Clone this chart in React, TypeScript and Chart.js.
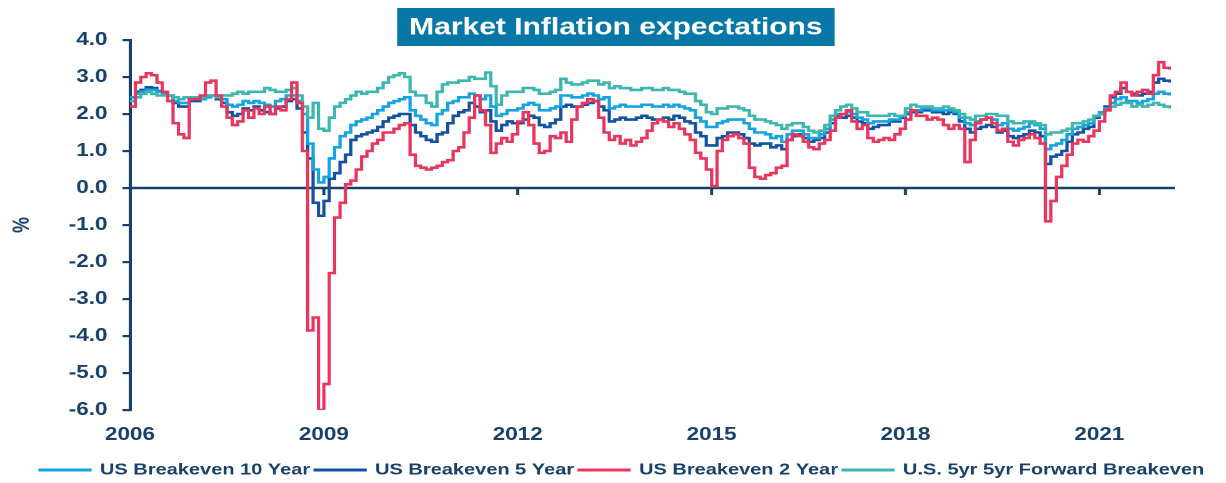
import { useEffect, useRef } from "react";
import { Chart, registerables } from "chart.js";

Chart.register(...registerables);

// ---------- data ----------
const START_YEAR = 2006; // first monthly observation: Jan 2006
const END_X = 2022 + 2 / 12;
const YEAR_TICKS = [2006, 2009, 2012, 2015, 2018, 2021];
const Y_MIN = -6;
const Y_MAX = 4;
const TITLE = "Market Inflation expectations";
const Y_TITLE = "%";
const SERIES_NAMES = [
  "US Breakeven 10 Year",
  "US Breakeven 5 Year",
  "US Breakeven 2 Year",
  "U.S. 5yr 5yr Forward Breakeven",
];

// monthly values, Jan 2006 .. Feb 2022
const BE10 = [
  2.45, 2.55, 2.6, 2.65, 2.65, 2.6, 2.55, 2.5, 2.35, 2.3, 2.3, 2.4, // 2006
  2.4, 2.4, 2.45, 2.5, 2.45, 2.4, 2.25, 2.2, 2.25, 2.35, 2.3, 2.35, // 2007
  2.3, 2.25, 2.2, 2.35, 2.4, 2.5, 2.5, 2.35, 2.0, 1.2, 0.5, 0.15, // 2008
  0.3, 0.8, 1.1, 1.4, 1.5, 1.7, 1.8, 1.85, 1.9, 2.0, 2.1, 2.2, // 2009
  2.3, 2.35, 2.4, 2.45, 2.1, 1.95, 1.85, 1.75, 1.7, 2.0, 2.1, 2.3, // 2010
  2.35, 2.45, 2.45, 2.55, 2.5, 2.4, 2.5, 2.2, 1.95, 2.0, 2.1, 2.1, // 2011
  2.15, 2.25, 2.3, 2.25, 2.1, 2.1, 2.15, 2.2, 2.5, 2.5, 2.45, 2.45, // 2012
  2.5, 2.55, 2.5, 2.4, 2.45, 2.15, 2.2, 2.25, 2.2, 2.2, 2.2, 2.25, // 2013
  2.25, 2.2, 2.2, 2.25, 2.2, 2.25, 2.2, 2.15, 2.1, 1.9, 1.8, 1.65, // 2014
  1.65, 1.75, 1.8, 1.85, 1.85, 1.85, 1.75, 1.6, 1.5, 1.5, 1.45, 1.35, // 2015
  1.4, 1.25, 1.45, 1.55, 1.55, 1.45, 1.35, 1.35, 1.45, 1.6, 1.85, 2.0, // 2016
  2.0, 2.05, 2.0, 1.9, 1.85, 1.75, 1.8, 1.8, 1.8, 1.85, 1.85, 1.95, // 2017
  2.05, 2.1, 2.1, 2.15, 2.15, 2.1, 2.1, 2.1, 2.1, 2.05, 1.9, 1.75, // 2018
  1.7, 1.8, 1.85, 1.9, 1.85, 1.7, 1.75, 1.6, 1.55, 1.6, 1.65, 1.75, // 2019
  1.7, 1.6, 1.05, 1.15, 1.2, 1.3, 1.45, 1.6, 1.65, 1.7, 1.75, 1.95, // 2020
  2.05, 2.15, 2.3, 2.4, 2.45, 2.35, 2.35, 2.3, 2.35, 2.4, 2.55, 2.6, // 2021
  2.55, 2.5, // 2022
];

const BE5 = [
  2.45, 2.6, 2.65, 2.72, 2.7, 2.62, 2.6, 2.5, 2.3, 2.2, 2.2, 2.35, // 2006
  2.35, 2.4, 2.45, 2.5, 2.4, 2.3, 2.05, 1.95, 2.0, 2.15, 2.1, 2.2, // 2007
  2.1, 2.05, 2.0, 2.15, 2.2, 2.35, 2.4, 2.15, 1.5, 0.8, -0.4, -0.75, // 2008
  -0.35, 0.25, 0.4, 0.7, 0.9, 1.3, 1.4, 1.45, 1.5, 1.55, 1.65, 1.8, // 2009
  1.9, 1.95, 2.0, 2.0, 1.7, 1.5, 1.4, 1.3, 1.25, 1.45, 1.5, 1.75, // 2010
  1.95, 2.05, 2.1, 2.3, 2.2, 2.05, 2.1, 1.8, 1.55, 1.7, 1.8, 1.75, // 2011
  1.75, 1.85, 1.95, 1.9, 1.7, 1.65, 1.75, 1.85, 2.2, 2.25, 2.2, 2.2, // 2012
  2.25, 2.3, 2.35, 2.2, 2.1, 1.8, 1.85, 1.9, 1.85, 1.85, 1.9, 1.95, // 2013
  1.9, 1.85, 1.85, 1.9, 1.85, 1.95, 1.9, 1.8, 1.75, 1.5, 1.4, 1.15, // 2014
  1.15, 1.35, 1.4, 1.5, 1.5, 1.45, 1.35, 1.2, 1.15, 1.2, 1.2, 1.1, // 2015
  1.15, 1.05, 1.3, 1.4, 1.45, 1.35, 1.25, 1.3, 1.35, 1.5, 1.75, 1.95, // 2016
  1.9, 1.95, 1.9, 1.8, 1.75, 1.6, 1.65, 1.7, 1.7, 1.8, 1.8, 1.9, // 2017
  2.0, 2.05, 2.05, 2.1, 2.1, 2.05, 2.05, 2.0, 2.05, 2.0, 1.8, 1.6, // 2018
  1.5, 1.6, 1.65, 1.7, 1.65, 1.5, 1.55, 1.4, 1.35, 1.4, 1.45, 1.55, // 2019
  1.5, 1.4, 0.65, 0.85, 0.9, 1.0, 1.25, 1.45, 1.5, 1.6, 1.65, 1.9, // 2020
  2.0, 2.2, 2.45, 2.55, 2.7, 2.6, 2.55, 2.5, 2.55, 2.6, 2.85, 2.95, // 2021
  2.9, 2.85, // 2022
];

const BE2 = [
  2.2, 2.85, 3.0, 3.1, 3.05, 2.85, 2.6, 2.35, 1.75, 1.45, 1.35, 2.4, // 2006
  2.4, 2.5, 2.85, 2.9, 2.5, 2.2, 1.9, 1.7, 1.8, 2.1, 1.9, 2.15, // 2007
  2.0, 2.2, 2.0, 2.2, 2.1, 2.4, 2.85, 2.3, 1.0, -3.85, -3.5, -6.0, // 2008
  -5.3, -2.3, -0.8, -0.4, 0.1, 0.2, 0.5, 0.85, 1.0, 1.2, 1.3, 1.5, // 2009
  1.5, 1.6, 1.7, 1.75, 0.9, 0.6, 0.55, 0.5, 0.55, 0.6, 0.7, 0.75, // 2010
  1.0, 1.1, 1.5, 1.9, 2.5, 2.1, 1.7, 0.95, 1.2, 1.35, 1.25, 1.45, // 2011
  1.8, 2.05, 1.7, 1.2, 0.95, 1.0, 1.4, 1.35, 1.5, 1.25, 1.85, 2.2, // 2012
  2.3, 2.4, 2.35, 1.9, 1.5, 1.3, 1.4, 1.2, 1.3, 1.15, 1.25, 1.35, // 2013
  1.55, 1.75, 1.85, 1.8, 1.65, 1.75, 1.6, 1.45, 1.3, 0.95, 0.8, 0.5, // 2014
  0.05, 1.0, 1.3, 1.4, 1.45, 1.35, 1.2, 0.55, 0.3, 0.25, 0.35, 0.4, // 2015
  0.55, 0.6, 1.3, 1.45, 1.4, 1.25, 1.1, 1.05, 1.2, 1.3, 1.55, 1.9, // 2016
  2.0, 2.1, 1.8, 1.6, 1.7, 1.35, 1.25, 1.3, 1.35, 1.3, 1.45, 1.6, // 2017
  1.85, 2.1, 1.95, 1.95, 1.85, 1.9, 1.85, 1.7, 1.6, 1.7, 1.6, 0.7, // 2018
  1.3, 1.75, 1.85, 1.9, 1.75, 1.55, 1.6, 1.25, 1.15, 1.3, 1.35, 1.45, // 2019
  1.35, 1.2, -0.9, -0.35, 0.3, 0.6, 0.9, 1.2, 1.3, 1.25, 1.4, 1.55, // 2020
  1.8, 2.1, 2.5, 2.6, 2.85, 2.6, 2.5, 2.6, 2.65, 2.55, 3.05, 3.4, // 2021
  3.25, 3.2, // 2022
];

const FWD5Y5Y = [
  2.35, 2.45, 2.55, 2.6, 2.55, 2.5, 2.5, 2.5, 2.45, 2.4, 2.45, 2.45, // 2006
  2.45, 2.45, 2.5, 2.5, 2.45, 2.5, 2.5, 2.55, 2.6, 2.55, 2.6, 2.6, // 2007
  2.6, 2.7, 2.65, 2.6, 2.6, 2.65, 2.7, 2.5, 2.2, 1.9, 2.3, 1.6, // 2008
  1.55, 1.9, 2.2, 2.3, 2.4, 2.5, 2.6, 2.55, 2.6, 2.6, 2.7, 2.85, // 2009
  3.0, 3.05, 3.1, 3.0, 2.6, 2.5, 2.5, 2.3, 2.2, 2.6, 2.8, 2.85, // 2010
  2.85, 2.9, 2.9, 3.0, 2.95, 2.95, 3.12, 2.75, 2.25, 2.5, 2.6, 2.6, // 2011
  2.6, 2.7, 2.7, 2.65, 2.55, 2.55, 2.6, 2.65, 2.95, 2.85, 2.8, 2.8, // 2012
  2.85, 2.9, 2.9, 2.8, 2.85, 2.7, 2.75, 2.7, 2.7, 2.65, 2.65, 2.7, // 2013
  2.7, 2.65, 2.65, 2.7, 2.65, 2.65, 2.6, 2.55, 2.55, 2.35, 2.25, 2.05, // 2014
  2.0, 2.15, 2.15, 2.2, 2.2, 2.15, 2.1, 1.95, 1.85, 1.85, 1.8, 1.75, // 2015
  1.7, 1.6, 1.7, 1.75, 1.75, 1.65, 1.55, 1.5, 1.55, 1.7, 1.95, 2.1, // 2016
  2.2, 2.25, 2.15, 2.05, 2.05, 1.95, 1.95, 1.95, 1.95, 2.0, 1.95, 1.95, // 2017
  2.15, 2.25, 2.2, 2.2, 2.2, 2.15, 2.15, 2.2, 2.15, 2.1, 2.0, 1.9, // 2018
  1.85, 1.95, 1.95, 2.0, 2.0, 1.95, 1.95, 1.8, 1.75, 1.75, 1.8, 1.8, // 2019
  1.75, 1.7, 1.45, 1.5, 1.5, 1.55, 1.6, 1.75, 1.75, 1.8, 1.85, 1.95, // 2020
  2.0, 2.1, 2.2, 2.25, 2.3, 2.3, 2.2, 2.25, 2.2, 2.25, 2.3, 2.25, // 2021
  2.2, 2.15, // 2022
];

// x position of each monthly observation (fractional year)
const MONTHS = BE10.map((_, i) => START_YEAR + i / 12);

// ---------- style ----------
const FONT = '"Liberation Sans", Arial, Helvetica, sans-serif';
const NAVY = "#17406a";
const TITLE_BG = "#0677a7";
const COLORS = ["#16a3e2", "#1252a0", "#e8365e", "#3cb6ae"];
const STRETCH = 1.25; // horizontal stretch of the picture
const SCREEN_W = 1226;
const SCREEN_H = 488;
const LOGICAL_W = Math.round(SCREEN_W / STRETCH);

const zeroLinePlugin = {
  id: "zeroLine",
  beforeDatasetsDraw(chart: any) {
    const { ctx, chartArea, scales } = chart;
    const y0 = scales.y.getPixelForValue(0);
    ctx.save();
    ctx.strokeStyle = NAVY;
    ctx.lineWidth = 2.4;
    ctx.beginPath();
    ctx.moveTo(chartArea.left, y0);
    ctx.lineTo(chartArea.right, y0);
    YEAR_TICKS.slice(1).forEach((yr) => {
      const px = scales.x.getPixelForValue(yr);
      ctx.moveTo(px, y0);
      ctx.lineTo(px, y0 + 7);
    });
    ctx.stroke();
    ctx.restore();
  },
};

const titleBoxPlugin = {
  id: "titleBox",
  afterDraw(chart: any) {
    const { ctx } = chart;
    const cx = chart.width / 2 + 2.3;
    const w = 350;
    ctx.save();
    ctx.fillStyle = TITLE_BG;
    ctx.fillRect(cx - w / 2, 8, w, 38);
    ctx.fillStyle = "#ffffff";
    ctx.font = `bold 24px ${FONT}`;
    ctx.textAlign = "center";
    ctx.textBaseline = "middle";
    ctx.fillText(TITLE, cx, 28);
    ctx.restore();
  },
};

export default function App() {
  const canvasRef = useRef<HTMLCanvasElement | null>(null);

  useEffect(() => {
    if (!canvasRef.current) return;
    const series = [BE10, BE5, BE2, FWD5Y5Y];
    const orders = [3, 4, 1, 2];
    const chart = new Chart(canvasRef.current, {
      type: "line",
      data: {
        datasets: series.map((vals, i) => ({
          label: SERIES_NAMES[i],
          data: vals.map((v, j) => ({ x: MONTHS[j], y: v })),
          borderColor: COLORS[i],
          backgroundColor: COLORS[i],
          borderWidth: 2.6,
          pointRadius: 0,
          stepped: true,
          fill: false,
          order: orders[i],
        })),
      },
      options: {
        responsive: false,
        devicePixelRatio: 2,
        animation: false,
        events: [],
        layout: { padding: { top: 40, left: 28, right: 0, bottom: 0 } },
        plugins: {
          legend: {
            position: "bottom",
            align: "start",
            labels: {
              boxWidth: 40,
              boxHeight: 0.5,
              padding: 4,
              color: NAVY,
              font: { family: FONT, size: 16, weight: "bold" },
              sort: (a: any, b: any) => a.datasetIndex - b.datasetIndex,
            },
          },
          title: { display: false },
          tooltip: { enabled: false },
        },
        scales: {
          x: {
            type: "linear",
            min: START_YEAR,
            max: END_X,
            afterBuildTicks: (s: any) => {
              s.ticks = YEAR_TICKS.map((v) => ({ value: v }));
            },
            afterFit: (s: any) => {
              s.height = 48;
            },
            grid: { display: false, drawTicks: false },
            border: { display: false },
            ticks: {
              autoSkip: false,
              maxRotation: 0,
              padding: 14,
              color: NAVY,
              font: { family: FONT, size: 18, weight: "bold" },
              callback: (v: any) => String(v),
            },
          },
          y: {
            min: Y_MIN,
            max: Y_MAX,
            afterFit: (s: any) => {
              s.width = 76;
            },
            grid: {
              drawOnChartArea: false,
              drawTicks: true,
              tickLength: 6,
              color: NAVY,
              lineWidth: 2.2,
            },
            border: { display: true, color: NAVY, width: 2.5 },
            ticks: {
              stepSize: 1,
              padding: 12,
              color: NAVY,
              font: { family: FONT, size: 18, weight: "bold" },
              callback: (v: any) => Number(v).toFixed(1),
            },
            title: {
              display: true,
              text: Y_TITLE,
              color: NAVY,
              font: { family: FONT, size: 18, weight: "bold" },
              padding: { top: -21, bottom: 0 },
            },
          },
          yRight: {
            type: "linear",
            position: "right",
            min: Y_MIN,
            max: Y_MAX,
            afterFit: (s: any) => {
              s.width = 41;
            },
            grid: { display: false, drawTicks: false },
            border: { display: false },
            ticks: { display: false },
          },
        },
      },
      plugins: [zeroLinePlugin, titleBoxPlugin],
    } as any);
    return () => chart.destroy();
  }, []);

  return (
    <div
      style={{
        position: "fixed",
        left: 0,
        top: 0,
        width: SCREEN_W,
        height: SCREEN_H,
        overflow: "hidden",
        background: "#ffffff",
      }}
    >
      <canvas
        ref={canvasRef}
        width={LOGICAL_W}
        height={SCREEN_H}
        style={{ width: `${SCREEN_W}px`, height: `${SCREEN_H}px`, display: "block" }}
      />
    </div>
  );
}
